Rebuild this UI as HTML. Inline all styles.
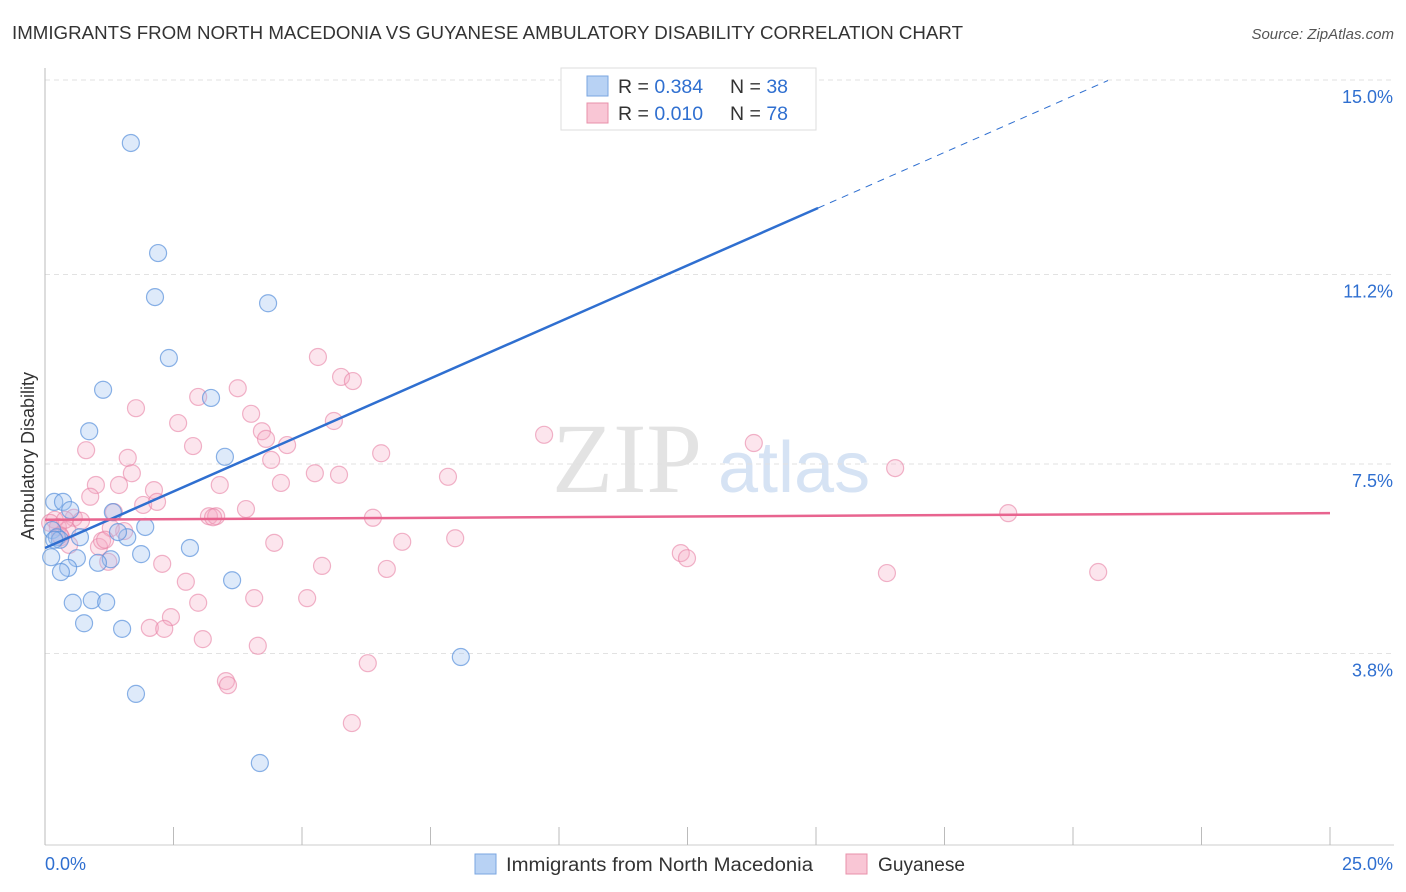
<!DOCTYPE html>
<html><head><meta charset="utf-8"><style>
body{margin:0;background:#fff;font-family:"Liberation Sans",sans-serif}
#wrap{position:relative;width:1406px;height:892px;overflow:hidden}
</style></head><body><div id="wrap">
<svg id="svg" width="1406" height="892" xmlns="http://www.w3.org/2000/svg">
<text x="12" y="39" font-size="18" fill="#333" textLength="951" lengthAdjust="spacingAndGlyphs">IMMIGRANTS FROM NORTH MACEDONIA VS GUYANESE AMBULATORY DISABILITY CORRELATION CHART</text>
<text x="1394" y="39" font-size="15" fill="#555" font-style="italic" text-anchor="end">Source: ZipAtlas.com</text>
<text x="34" y="456" font-size="18" fill="#333" text-anchor="middle" transform="rotate(-90 34 456)">Ambulatory Disability</text>
<text x="552" y="492" font-size="100" fill="#e3e3e3" font-family="Liberation Serif,serif">ZIP</text>
<text x="718" y="492" font-size="72" fill="#d6e3f4">atlas</text>
<g id="grid"></g><g id="axes"></g><g id="pts"></g><g id="trend"></g>
<g>
<rect x="561" y="68" width="255" height="62" fill="#fff" stroke="#ddd"/>
<rect x="587" y="76" width="21" height="20" fill="#b8d2f4" stroke="#7aa6e0"/>
<rect x="587" y="103" width="21" height="20" fill="#f9c6d5" stroke="#e890aa"/>
<text x="618" y="93" font-size="19.5" fill="#333">R = <tspan fill="#2f6fd0">0.384</tspan><tspan x="730">N = </tspan><tspan fill="#2f6fd0">38</tspan></text>
<text x="618" y="120" font-size="19.5" fill="#333">R = <tspan fill="#2f6fd0">0.010</tspan><tspan x="730">N = </tspan><tspan fill="#2f6fd0">78</tspan></text>
</g>
<g>
<rect x="475" y="854" width="21" height="20" fill="#b8d2f4" stroke="#7aa6e0"/>
<text x="506" y="871" font-size="19" fill="#333" textLength="307" lengthAdjust="spacingAndGlyphs">Immigrants from North Macedonia</text>
<rect x="846" y="854" width="21" height="20" fill="#f9c6d5" stroke="#e890aa"/>
<text x="878" y="871" font-size="19" fill="#333" textLength="87" lengthAdjust="spacingAndGlyphs">Guyanese</text>
</g>
</svg></div>
<script>
const yTicks=[15.0,11.2,7.5,3.8];
const yTickLabels=["15.0%","11.2%","7.5%","3.8%"];
const xTickLabels=["0.0%","25.0%"];
const blueX=[1.67,2.20,2.14,4.34,2.41,1.13,3.23,0.86,3.50,0.18,0.35,0.49,1.32,1.95,0.14,0.23,0.68,1.60,1.42,0.29,0.12,0.62,1.28,1.87,2.82,1.03,0.45,0.31,3.64,0.54,0.91,1.19,0.76,1.50,8.09,1.77,4.18,0.18];
const blueY=[13.77,11.62,10.76,10.64,9.57,8.95,8.79,8.14,7.64,6.76,6.76,6.60,6.56,6.27,6.21,6.07,6.07,6.07,6.17,6.02,5.68,5.66,5.64,5.74,5.86,5.57,5.47,5.39,5.23,4.79,4.84,4.80,4.39,4.28,3.73,3.01,1.66,6.02];
const pinkX=[5.31,5.76,5.99,3.75,2.98,1.77,4.01,2.59,5.62,4.22,9.71,4.30,4.71,2.88,0.80,13.79,1.61,6.54,4.40,16.54,1.69,5.25,5.72,7.84,1.44,0.99,3.40,4.59,2.12,0.88,1.91,2.18,3.91,1.34,3.19,3.33,3.27,6.38,18.74,0.56,0.70,0.19,0.25,0.43,1.54,1.28,0.31,0.47,1.05,1.11,4.46,6.95,7.98,12.37,12.49,1.23,2.28,5.39,6.65,16.38,20.49,2.74,4.07,5.10,2.98,2.45,2.04,2.32,3.07,4.14,6.28,3.52,3.56,5.97,0.29,0.10,0.39,1.17];
const pinkY=[9.59,9.20,9.12,8.98,8.81,8.59,8.48,8.30,8.34,8.14,8.07,7.99,7.87,7.85,7.77,7.91,7.62,7.71,7.58,7.42,7.32,7.32,7.29,7.25,7.09,7.09,7.09,7.13,6.99,6.86,6.70,6.76,6.62,6.56,6.48,6.48,6.46,6.45,6.54,6.45,6.39,6.41,6.27,6.21,6.19,6.25,6.07,5.92,5.88,6.00,5.96,5.98,6.05,5.76,5.66,5.59,5.55,5.51,5.45,5.37,5.39,5.20,4.88,4.88,4.79,4.51,4.30,4.28,4.08,3.95,3.61,3.26,3.18,2.44,6.11,6.35,6.41,6.02];
const blueTrend=[5.86,12.50,15.04,20.68];
const pinkTrend=[6.41,6.54];
const X=v=>45+v*51.4, Y=v=>80+(15-v)*51.2;
const NS="http://www.w3.org/2000/svg";
function mk(tag,attrs,parent){const e=document.createElementNS(NS,tag);for(const k in attrs)e.setAttribute(k,attrs[k]);document.getElementById(parent).appendChild(e);return e;}
yTicks.forEach((t,i)=>{
 const l=mk('line',{x1:45,x2:1394,y1:Y(t),y2:Y(t),stroke:'#e2e2e2','stroke-dasharray':'5,4'},'grid');
 
 
 const tx=mk('text',{x:1393,y:Y(t)+23,'font-size':18,fill:'#2f6fd0','text-anchor':'end'},'grid');
 tx.textContent=yTickLabels[i];
 
 
});
let a=mk('line',{x1:45,x2:45,y1:68,y2:845,stroke:'#bbb'},'axes');


a=mk('line',{x1:45,x2:1394,y1:845,y2:845,stroke:'#ccc'},'axes');


for(let i=0;i<=10;i++){const xv=X(i*2.5);
 const t=mk('line',{x1:xv,x2:xv,y1:827,y2:845,stroke:'#bbb'},'axes');
 
 }
[[0,45,'start'],[25,1393,'end']].forEach((d,i)=>{
 const t=mk('text',{x:d[1],y:870,'font-size':18,fill:'#2f6fd0','text-anchor':d[2]},'axes');
 t.textContent=xTickLabels[i];
 
 });
pinkX.forEach((x,i)=>{const c=mk('circle',{cx:X(x),cy:Y(pinkY[i]),r:8.5,fill:'rgba(245,170,195,0.3)',stroke:'rgba(232,130,165,0.6)','stroke-width':1.2},'pts');
 
 });
blueX.forEach((x,i)=>{const c=mk('circle',{cx:X(x),cy:Y(blueY[i]),r:8.5,fill:'rgba(160,195,240,0.35)',stroke:'rgba(90,145,220,0.7)','stroke-width':1.2},'pts');
 
 });
const slope=(blueTrend[1]-blueTrend[0])/blueTrend[2];
let l=mk('line',{x1:X(0),y1:Y(blueTrend[0]),x2:X(blueTrend[2]),y2:Y(blueTrend[1]),stroke:'#2f6fd0','stroke-width':2.5},'trend');


l=mk('line',{x1:X(blueTrend[2]),y1:Y(blueTrend[1]),x2:X(blueTrend[3]),y2:Y(blueTrend[0]+slope*blueTrend[3]),stroke:'#2f6fd0','stroke-width':1,'stroke-dasharray':'7,6'},'trend');


l=mk('line',{x1:X(0),y1:Y(pinkTrend[0]),x2:X(25),y2:Y(pinkTrend[1]),stroke:'#e8648f','stroke-width':2.5},'trend');


</script></body></html>
